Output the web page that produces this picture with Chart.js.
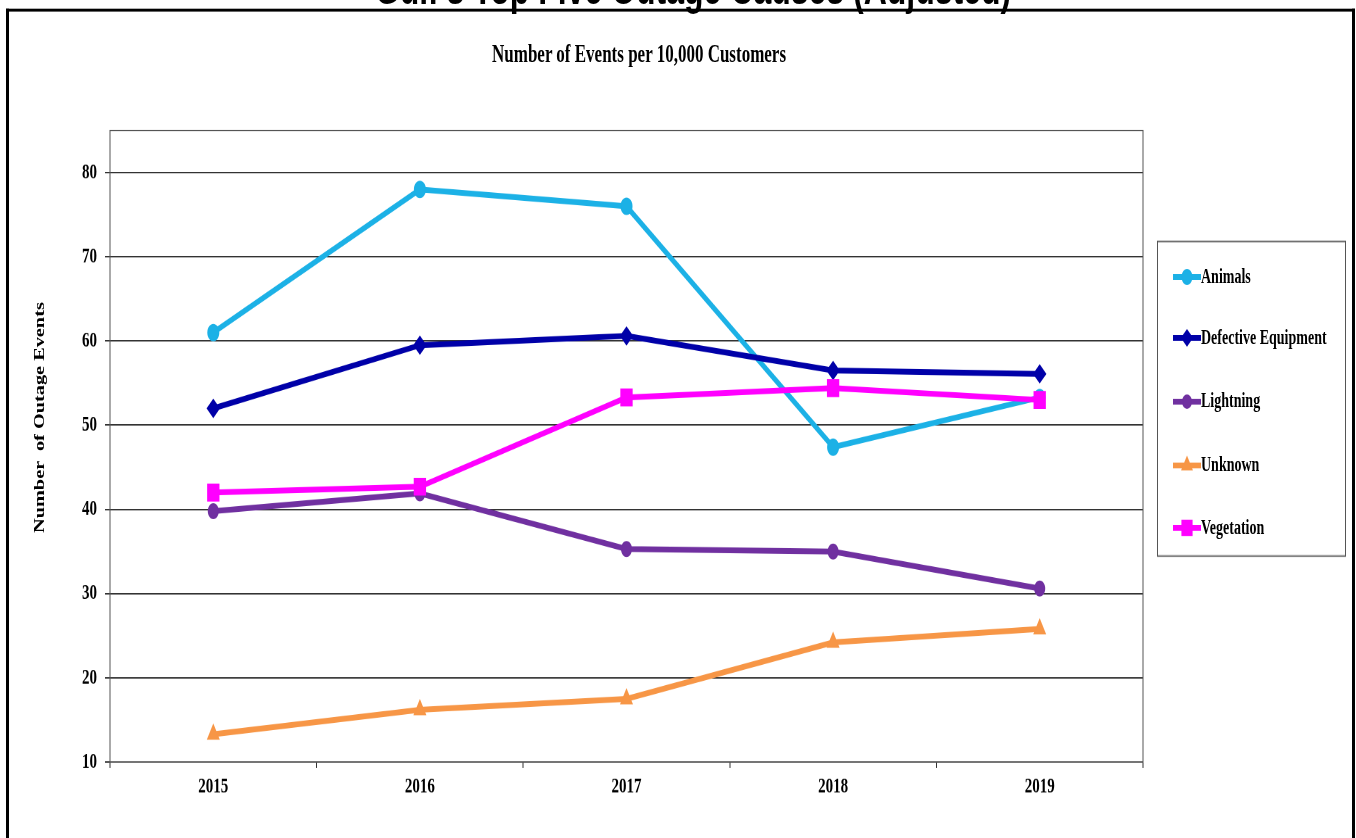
<!DOCTYPE html>
<html>
<head>
<meta charset="utf-8">
<script src="https://cdn.jsdelivr.net/npm/chart.js@4.4.1/dist/chart.umd.min.js"></script>
<style>
    html, body { margin: 0; background: #fff; }
    #wrap { position: relative; width: 1356px; height: 838px; overflow: hidden; }
    /* the original picture is stretched vertically, so draw flat and stretch */
    #page {
        position: absolute; left: 0; top: 0; width: 1356px; height: 578px;
        transform: scaleY(1.45); transform-origin: 0 0;
    }
    #page canvas#chart { position: absolute; left: 0; top: 0; }
    #title {
        position: absolute; left: 0; top: -24px; width: 1386px; text-align: center;
        font: bold 32px/32px "Liberation Sans", Arial, sans-serif; white-space: nowrap;
    }
    #frame {
        position: absolute; left: 6px; top: 6px; width: 1349px; height: 620px;
        box-sizing: border-box; border-top: 2px solid #000;
        border-left: 3px solid #000; border-right: 3px solid #000;
    }
    #subtitle {
        position: absolute; left: 0; top: 28px; width: 1278px; text-align: center;
        font: bold 17px/20px "Liberation Serif", "Times New Roman", serif;
    }
    #ytitle {
        position: absolute; left: 40px; top: 288px; white-space: pre;
        transform: translate(-50%, -50%) rotate(-90deg);
        font: bold 14px/16px "Liberation Serif", "Times New Roman", serif;
    }
    #legend {
        position: absolute; left: 1157px; top: 166px; width: 189px; height: 218px;
        box-sizing: border-box; border: 1px solid #555; background: #fff;
    }
    .item {
        position: absolute; left: 15px; height: 16px; display: flex; align-items: center;
        font: bold 14px/16px "Liberation Serif", "Times New Roman", serif; white-space: nowrap;
    }
</style>
</head>
<body>
<div id="wrap">
<div id="page">
    <div id="title">Gulf's Top Five Outage Causes (Adjusted)</div>
    <div id="frame"></div>
    <div id="subtitle">Number of Events per 10,000 Customers</div>
    <div id="ytitle">Number  of Outage Events</div>
    <canvas id="chart" width="1356" height="578"></canvas>
    <div id="legend"></div>
</div>
</div>
<script>
// 年份
const years = ['2015', '2016', '2017', '2018', '2019'];

// 各停電原因（每萬戶事件數）
const animals = [61.0, 78.0, 76.0, 47.4, 53.3];
const defectiveEquipment = [52.0, 59.5, 60.6, 56.5, 56.1];
const lightning = [39.8, 41.9, 35.3, 35.0, 30.6];
const unknown = [13.3, 16.2, 17.5, 24.2, 25.8];
const vegetation = [42.0, 42.7, 53.3, 54.4, 53.0];

// Y 軸刻度
const yTicks = [10, 20, 30, 40, 50, 60, 70, 80];

const labelFont = { family: '"Liberation Serif", "Times New Roman", serif', size: 15, weight: 'bold' };

function series(label, data, color, style, radius, order) {
    return {
        label, data, order,
        borderColor: color,
        backgroundColor: color,
        borderWidth: 4,
        pointStyle: style,
        pointRadius: radius,
        pointHoverRadius: radius,
        pointBackgroundColor: color,
        pointBorderColor: color,
        pointBorderWidth: 1,
        tension: 0
    };
}

const datasets = [
    series('Animals', animals, '#1CB1E6', 'circle', 5.5, 5),
    series('Defective Equipment', defectiveEquipment, '#0000A8', 'rectRot', 6, 4),
    series('Lightning', lightning, '#7030A0', 'circle', 5, 3),
    series('Unknown', unknown, '#F79646', 'triangle', 6.5, 2),
    series('Vegetation', vegetation, '#FF00FF', 'rect', 8, 1)
];

// 畫出繪圖區外框（上、右）
const plotBox = {
    id: 'plotBox',
    afterDraw(chart) {
        const { ctx, chartArea: a } = chart;
        ctx.save();
        ctx.strokeStyle = '#555';
        ctx.lineWidth = 1;
        ctx.strokeRect(a.left, a.top, a.right - a.left, a.bottom - a.top);
        ctx.restore();
    }
};

const chart = new Chart(document.getElementById('chart'), {
    type: 'line',
    data: { labels: years, datasets },
    options: {
        responsive: false,
        animation: false,
        devicePixelRatio: 2,
        layout: { padding: { top: 90, left: 0, right: 213, bottom: 0 } },
        plugins: {
            legend: { display: false },
            title: { display: false },
            tooltip: { enabled: false }
        },
        scales: {
            x: {
                offset: true,
                afterFit(scale) { scale.height = 52.5; },
                grid: { offset: true, drawOnChartArea: false, tickLength: 4, color: '#333' },
                border: { color: '#333', width: 1 },
                ticks: { color: '#000', font: labelFont, padding: 4 }
            },
            y: {
                min: 10,
                max: 85,
                afterFit(scale) { scale.width = 110; },
                afterBuildTicks(scale) { scale.ticks = yTicks.map(v => ({ value: v })); },
                grid: { color: '#333', tickLength: 5 },
                border: { color: '#333', width: 1 },
                ticks: { color: '#000', font: labelFont, padding: 8 }
            }
        }
    },
    plugins: [plotBox]
});

// 自訂圖例（線段 + 標記）
const legendEl = document.getElementById('legend');
const itemTops = [16, 58.4, 101.9, 146, 189.4];
chart.data.datasets.forEach((ds, i) => {
    const item = document.createElement('div');
    item.className = 'item';
    item.style.top = itemTops[i] + 'px';

    const icon = document.createElement('canvas');
    icon.width = 56;
    icon.height = 32;
    icon.style.width = '28px';
    icon.style.height = '16px';
    const c = icon.getContext('2d');
    c.scale(2, 2);
    c.strokeStyle = ds.borderColor;
    c.lineWidth = 4;
    c.beginPath();
    c.moveTo(0, 8);
    c.lineTo(28, 8);
    c.stroke();
    c.fillStyle = ds.pointBackgroundColor;
    c.strokeStyle = ds.pointBorderColor;
    c.lineWidth = 1;
    Chart.helpers.drawPoint(c, { pointStyle: ds.pointStyle, radius: ds.pointRadius * 0.9, rotation: 0, borderWidth: 1 }, 14, 8);

    const text = document.createElement('span');
    text.textContent = ds.label;

    item.appendChild(icon);
    item.appendChild(text);
    legendEl.appendChild(item);
});
</script>
</body>
</html>
